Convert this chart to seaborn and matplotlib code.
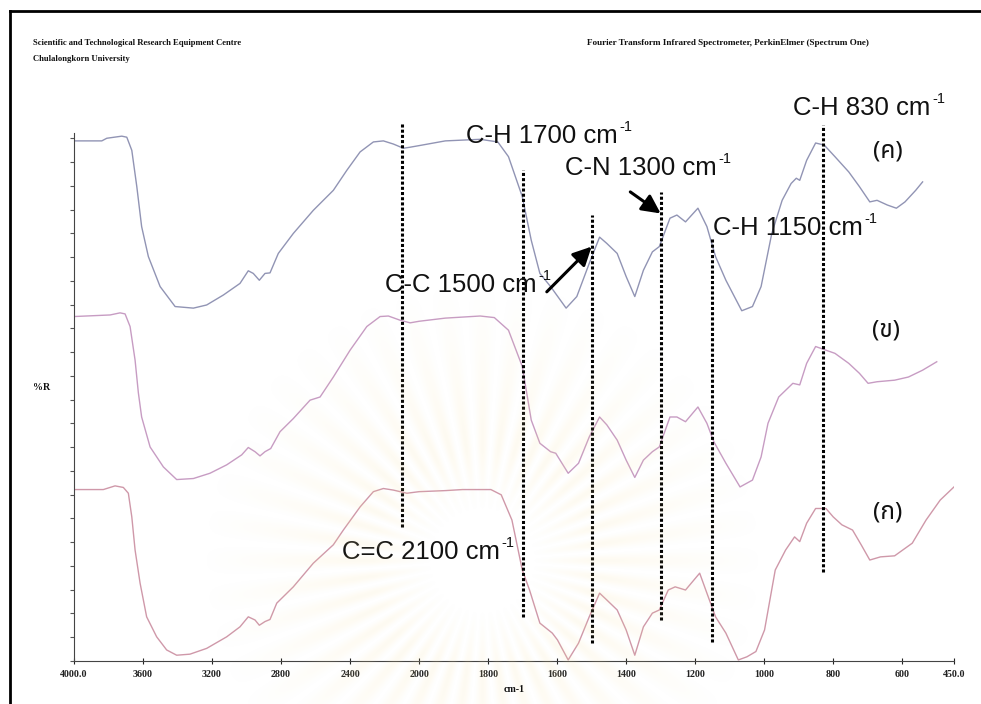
import numpy as np
import pandas as pd
import matplotlib
matplotlib.use("Agg")
import matplotlib.pyplot as plt
import seaborn as sns
from matplotlib import font_manager
from matplotlib.lines import Line2D

# ---------------------------------------------------------------- spectra
# (ค) top spectrum
wn_c = [4000, 3839, 3810, 3723, 3694, 3665, 3636, 3608, 3569, 3501, 3414, 3308,
        3231, 3134, 3038, 2990, 2961, 2926, 2893, 2864, 2816, 2729, 2613, 2497,
        2419, 2342, 2265, 2207, 2149, 2091, 2052, 2000, 1924, 1823, 1772, 1741,
        1701, 1675, 1650, 1619, 1574, 1543, 1507, 1477, 1456, 1426, 1400, 1375,
        1350, 1324, 1304, 1273, 1253, 1228, 1192, 1166, 1141, 1111, 1065, 1034,
        1009, 978, 948, 922, 907, 897, 877, 851, 826, 795, 755, 724, 694, 673,
        643, 617, 592, 561, 541]
r_c = [98.9, 98.9, 99.4, 99.8, 99.6, 97.1, 90.2, 82.6, 76.9, 71.2, 67.4, 67.1,
       67.7, 69.6, 71.8, 74.2, 73.7, 72.4, 73.7, 73.8, 77.5, 81.3, 85.7, 89.5,
       93.3, 96.8, 98.7, 98.9, 98.3, 97.5, 97.7, 98.0, 98.9, 99.2, 98.7, 95.9,
       88.3, 80.0, 73.7, 71.2, 67.1, 69.3, 75.6, 80.6, 79.4, 77.5, 73.1, 69.3,
       74.3, 77.8, 78.8, 84.2, 84.8, 83.5, 86.1, 82.6, 76.9, 72.4, 66.6, 67.4,
       71.2, 81.3, 87.6, 90.8, 91.8, 91.4, 95.2, 98.5, 98.1, 95.9, 93.0, 90.2,
       87.3, 87.6, 86.7, 86.1, 87.3, 89.5, 91.1]

# (ข) middle spectrum
wn_kh = [4000, 3791, 3733, 3704, 3675, 3646, 3627, 3608, 3559, 3482, 3405, 3308,
         3212, 3115, 3028, 2990, 2951, 2922, 2893, 2860, 2806, 2729, 2632, 2574,
         2497, 2400, 2303, 2226, 2178, 2110, 2052, 2000, 1924, 1823, 1782, 1741,
         1701, 1675, 1650, 1619, 1604, 1568, 1538, 1507, 1477, 1456, 1426, 1400,
         1375, 1350, 1324, 1304, 1273, 1253, 1228, 1192, 1166, 1146, 1111, 1070,
         1034, 1009, 989, 958, 917, 897, 877, 851, 821, 795, 755, 724, 699, 673,
         622, 582, 541, 500]
r_kh = [65.5, 65.8, 66.2, 66.0, 63.6, 57.2, 51.0, 46.4, 40.7, 36.9, 34.5, 34.7,
        35.7, 37.3, 39.2, 40.6, 39.8, 39.0, 39.8, 40.4, 43.6, 46.1, 49.6, 50.2,
        54.0, 59.1, 63.6, 65.5, 65.6, 64.8, 64.3, 64.6, 65.2, 65.6, 65.3, 62.9,
        56.0, 45.8, 41.4, 39.8, 39.5, 35.7, 37.6, 42.6, 46.4, 44.9, 42.0, 38.2,
        34.9, 38.2, 39.8, 40.7, 46.4, 46.4, 45.5, 48.3, 45.2, 41.7, 37.6, 33.1,
        34.4, 38.8, 45.2, 50.2, 52.8, 52.5, 56.6, 59.8, 59.1, 58.5, 56.6, 54.7,
        52.8, 53.1, 53.4, 54.0, 55.3, 56.9]

# (ก) bottom spectrum
wn_k = [4000, 3830, 3762, 3714, 3685, 3665, 3646, 3617, 3579, 3521, 3463, 3405,
        3328, 3231, 3115, 3038, 2990, 2951, 2926, 2893, 2864, 2825, 2729, 2613,
        2497, 2439, 2342, 2265, 2207, 2149, 2071, 2000, 1924, 1874, 1792, 1762,
        1731, 1701, 1680, 1650, 1614, 1599, 1568, 1538, 1507, 1477, 1456, 1426,
        1400, 1375, 1350, 1324, 1304, 1278, 1258, 1228, 1187, 1166, 1141, 1111,
        1075, 1050, 1024, 999, 968, 938, 912, 897, 877, 851, 821, 800, 775, 744,
        719, 694, 663, 622, 571, 531, 490, 450]
r_k = [32.6, 32.6, 33.3, 33.0, 31.9, 27.4, 21.1, 14.8, 8.4, 4.6, 2.1, 1.1,
       1.3, 2.4, 4.6, 6.5, 8.4, 7.8, 6.8, 7.5, 7.9, 11.0, 14.1, 18.6,
       22.1, 24.9, 29.3, 32.2, 32.8, 32.5, 31.9, 32.2, 32.4, 32.6, 32.6, 31.6,
       26.8, 17.3, 13.5, 7.2, 5.3, 4.0, 0.2, 3.4, 8.4, 12.9, 11.6, 9.7,
       5.9, 1.1, 6.5, 9.1, 9.7, 13.5, 14.1, 13.5, 16.7, 12.9, 8.4, 5.3,
       0.2, 0.8, 1.8, 5.9, 17.3, 21.1, 23.6, 22.7, 26.2, 29.0, 29.0, 27.4,
       25.9, 24.9, 22.1, 19.2, 19.8, 20.0, 22.4, 26.8, 30.6, 33.1]

sample_names = ["(ค)", "(ข)", "(ก)"]
sample_colors = ["#9194b4", "#c79cc3", "#cf98a9"]

# marked absorption bands
band_wn = [2100, 1700, 1500, 1300, 1150, 830]
band_bond = ["C=C", "C-H", "C-C", "C-N", "C-H", "C-H"]

# axis ticks
xtick_vals = [4000, 3600, 3200, 2800, 2400, 2000, 1800, 1600, 1400, 1200, 1000,
              800, 600, 450]
xtick_labels = ["4000.0", "3600", "3200", "2800", "2400", "2000", "1800", "1600",
                "1400", "1200", "1000", "800", "600", "450.0"]

# ---------------------------------------------------------------- fonts
def find_thai_font():
    preferred = ["Noto Sans Thai", "Noto Sans Thai Looped", "Loma", "Garuda",
                 "Norasi", "Kinnari", "Tlwg Typo", "Waree", "Umpush", "Sawasdee",
                 "Laksaman", "Purisa", "Noto Serif Thai"]
    names = {f.name for f in font_manager.fontManager.ttflist}
    for p in preferred:
        if p in names:
            return p
    try:
        from fontTools.ttLib import TTFont
    except Exception:
        return None
    for f in font_manager.fontManager.ttflist:
        try:
            tt = TTFont(f.fname, fontNumber=0, lazy=True)
            cmap = tt.getBestCmap() or {}
            if all(c in cmap for c in (0x0E01, 0x0E02, 0x0E04)):
                return f.name
        except Exception:
            continue
    return None

thai_font = find_thai_font()
thai_family = [thai_font, "DejaVu Sans"] if thai_font else ["DejaVu Sans"]
SANS = ["Liberation Sans", "DejaVu Sans"]
SERIF = ["Liberation Serif", "DejaVu Serif"]

# ---------------------------------------------------------------- figure
W, H = 981, 704
fig = plt.figure(figsize=(W / 100, H / 100), dpi=100, facecolor="white")

# faint sunburst emblem in the page background
yy, xx = np.mgrid[0:H, 0:W]
dx, dy = xx - 482.0, yy - 560.0
rad = np.hypot(dx, dy)
theta = np.arctan2(dy, dx)
rays = 0.5 * (1 + np.cos(theta * 44))
fade = np.clip((rad - 50) / 60, 0, 1) * np.clip((280 - rad) / 150, 0, 1)
alpha = 0.14 * rays * fade
bg = np.zeros((H, W, 4))
bg[..., 0], bg[..., 1], bg[..., 2] = 0.97, 0.88, 0.62
bg[..., 3] = alpha
fig.figimage(bg, xo=0, yo=0, origin="upper", zorder=0)

ax = fig.add_axes([74 / W, 1 - 661 / H, (954 - 74) / W, (661 - 133) / H])
ax.patch.set_alpha(0)


def fwd(v):
    v = np.asarray(v, dtype=float)
    return np.where(v >= 2000, v, 2 * v - 2000)


def inv(u):
    u = np.asarray(u, dtype=float)
    return np.where(u >= 2000, u, (u + 2000) / 2)


ax.set_xscale("function", functions=(fwd, inv))

df = pd.concat([
    pd.DataFrame({"wavenumber": wn_c, "R": r_c, "sample": sample_names[0]}),
    pd.DataFrame({"wavenumber": wn_kh, "R": r_kh, "sample": sample_names[1]}),
    pd.DataFrame({"wavenumber": wn_k, "R": r_k, "sample": sample_names[2]}),
], ignore_index=True)

sns.lineplot(data=df, x="wavenumber", y="R", hue="sample",
             palette=dict(zip(sample_names, sample_colors)),
             estimator=None, sort=False, lw=1.0, legend=False, ax=ax, zorder=2)

ax.set_xlim(4000, 450)
ax.set_ylim(0, 100.4)
ax.set_xlabel("")
ax.set_ylabel("")

ax.set_xticks(xtick_vals)
ax.set_xticklabels(xtick_labels, fontfamily=SERIF, fontsize=7.2,
                   fontweight="bold")
ax.set_yticks(np.linspace(0, 99.4, 23))
ax.set_yticklabels([])
ax.minorticks_off()
ax.tick_params(axis="x", direction="inout", length=5, width=0.8, pad=4,
               colors="#222222")
ax.tick_params(axis="y", direction="out", length=3, width=0.8, colors="#555555")
for s in ("top", "right"):
    ax.spines[s].set_visible(False)
for s in ("left", "bottom"):
    ax.spines[s].set_color("#444444")
    ax.spines[s].set_linewidth(0.8)

# ---------------------------------------------------------------- band markers
band_span = [(25.5, 102.3), (8.4, 93.3), (3.4, 84.8), (7.8, 89.2), (3.6, 80.6),
             (16.9, 101.9)]
label_at = [(2446, 20.7), (1864, 99.8), (2197, 71.5), (1577, 93.7),
            (1148, 82.3), (916, 105.1)]

for wn, bond, (lo, hi), (lx, ly) in zip(band_wn, band_bond, band_span, label_at):
    ax.plot([wn, wn], [lo, hi], color="black", lw=2.2, ls=(0, (1.0, 0.7)),
            clip_on=False, zorder=5)
    t = ax.text(lx, ly, f"{bond} {wn} cm", fontfamily=SANS, fontsize=18.5,
                ha="left", va="center", color="#111111", clip_on=False, zorder=6)
    ax.annotate("-1", xy=(1, 1), xycoords=t, xytext=(1, 3),
                textcoords="offset points", ha="left", va="top",
                fontfamily=SANS, fontsize=10.5, color="#111111", zorder=6)

# arrows to the C-C and C-N bands
arrow_from = [(1630, 70.2), (1388, 89.2)]
arrow_to = [(1500, 78.8), (1300, 85.1)]
for (x0, y0), (x1, y1) in zip(arrow_from, arrow_to):
    ax.annotate("", xy=(x1, y1), xytext=(x0, y0),
                arrowprops=dict(arrowstyle="-|>,head_length=0.7,head_width=0.35",
                                mutation_scale=16, lw=2.2, color="black",
                                shrinkA=0, shrinkB=0),
                zorder=7)

# sample labels
sample_label_at = [(643, 96.8), (646, 62.9), (643, 28.3)]
for name, (lx, ly) in zip(sample_names, sample_label_at):
    ax.text(lx, ly, name, fontfamily=thai_family, fontsize=17.5, ha="center",
            va="center", color="#111111", zorder=6)

# ---------------------------------------------------------------- page text
fig.text(514 / W, 1 - 690 / H, "cm-1", fontfamily=SERIF, fontsize=7.2,
         fontweight="bold", ha="center", va="center", color="#111111")
fig.text(33 / W, 1 - 387 / H, "%R", fontfamily=SERIF, fontsize=7.2,
         fontweight="bold", ha="left", va="center", color="#111111")
fig.text(33 / W, 1 - 43 / H,
         "Scientific and Technological Research Equipment Centre",
         fontfamily=SERIF, fontsize=6.2, fontweight="bold", ha="left",
         va="center", color="#111111")
fig.text(33 / W, 1 - 59 / H, "Chulalongkorn University",
         fontfamily=SERIF, fontsize=6.2, fontweight="bold", ha="left",
         va="center", color="#111111")
fig.text(587 / W, 1 - 43 / H,
         "Fourier Transform Infrared Spectrometer, PerkinElmer (Spectrum One)",
         fontfamily=SERIF, fontsize=6.6, fontweight="bold", ha="left",
         va="center", color="#111111")

# page frame
fig.add_artist(Line2D([10 / W, 1], [1 - 11 / H, 1 - 11 / H],
                      transform=fig.transFigure, color="black", lw=2.0))
fig.add_artist(Line2D([10 / W, 10 / W], [0, 1 - 11 / H],
                      transform=fig.transFigure, color="black", lw=2.0))

fig.savefig("out.png", dpi=100, facecolor="white")
